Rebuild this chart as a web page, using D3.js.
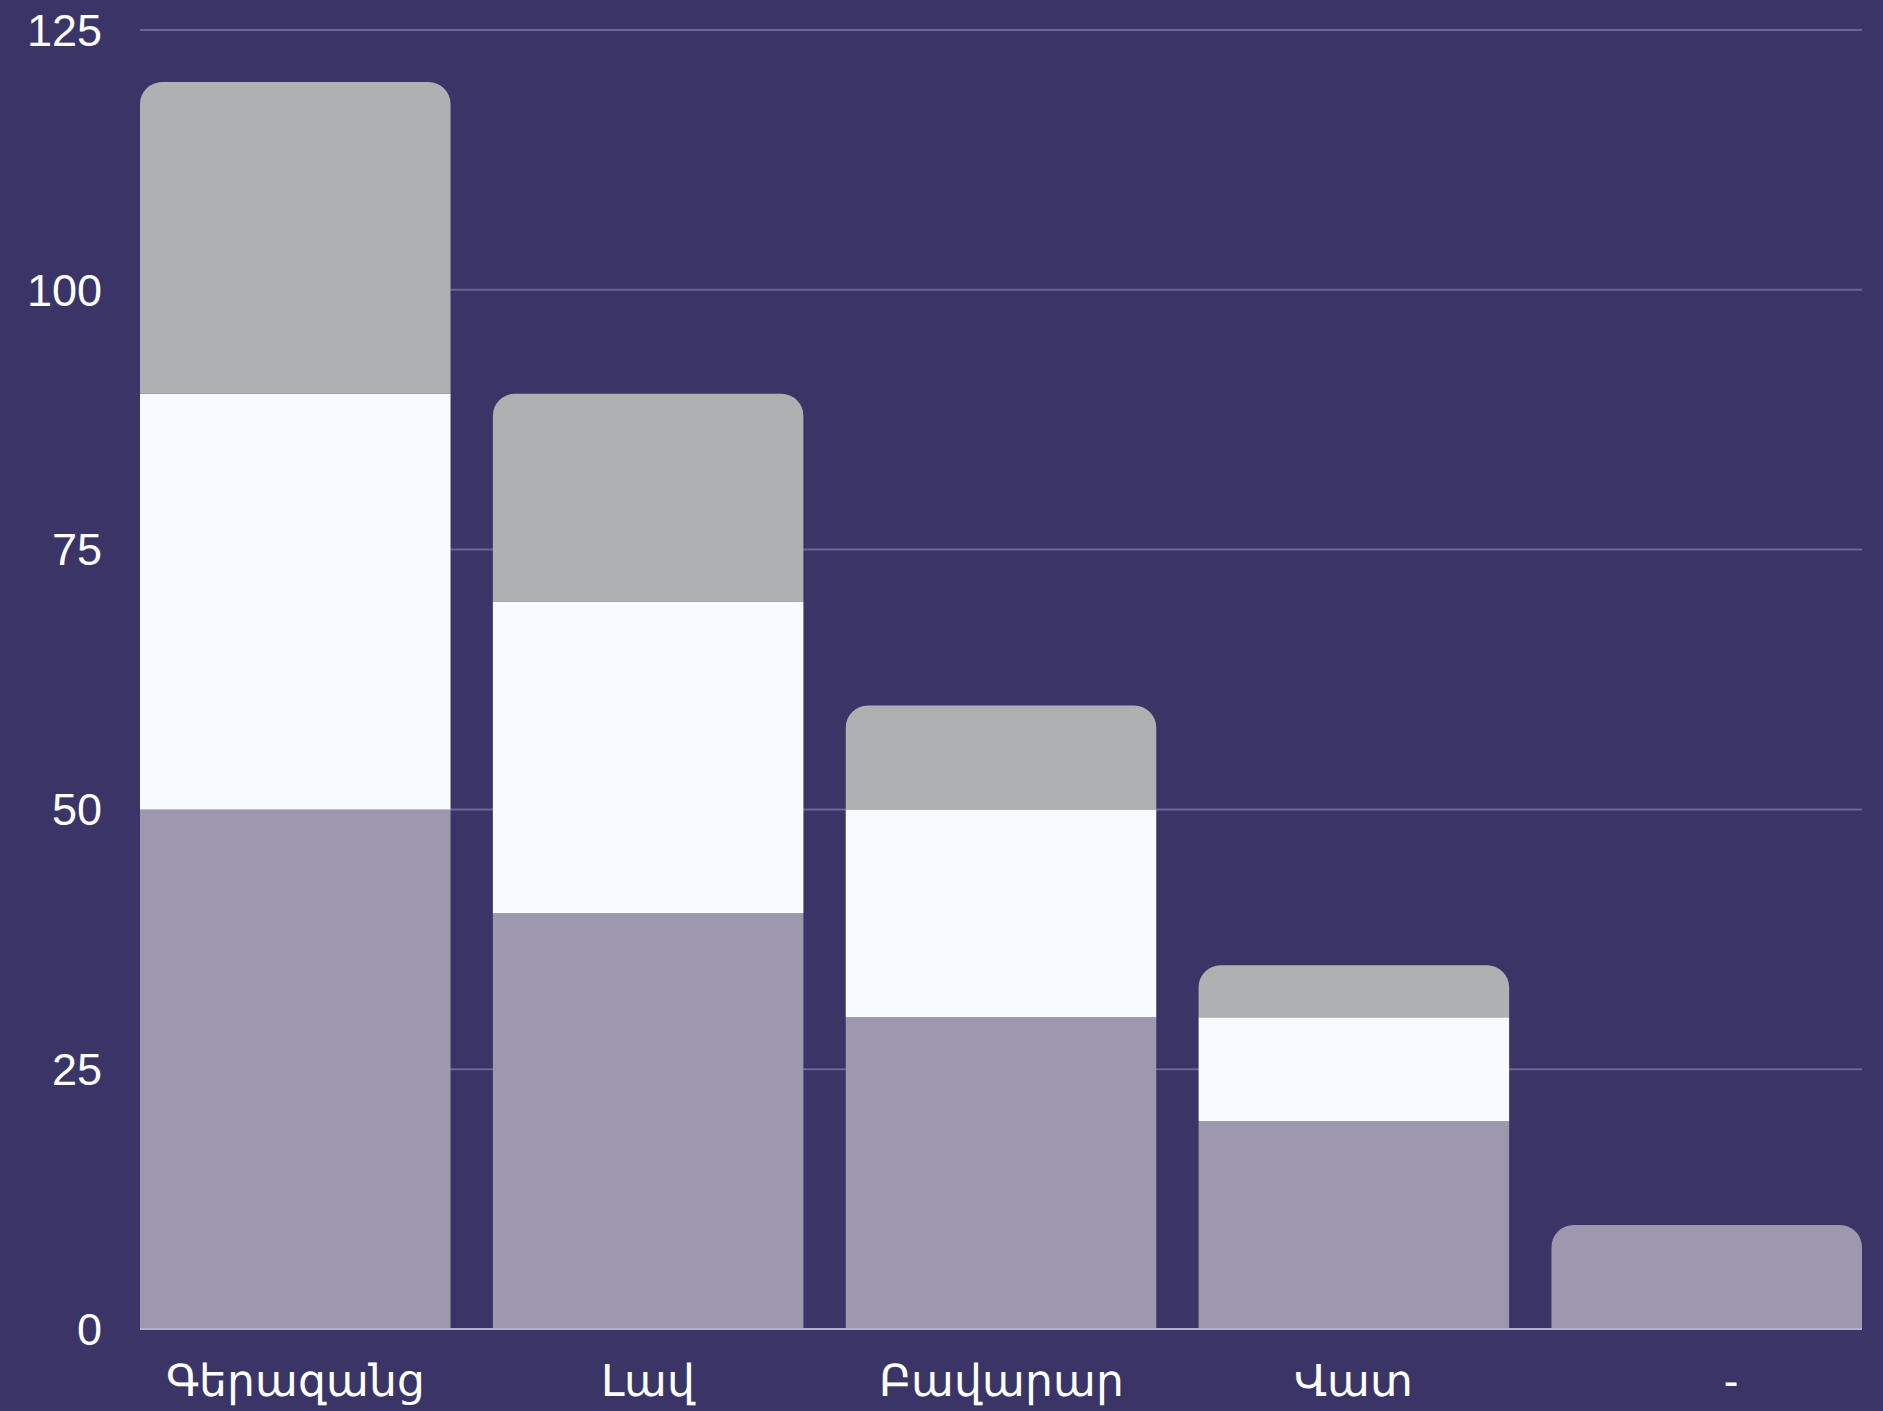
<!DOCTYPE html>
<html>
<head>
<meta charset="utf-8">
<script src="https://cdn.jsdelivr.net/npm/d3@7"></script>
<style>
  html, body { margin: 0; padding: 0; background: #3a3566; }
  svg text { font-family: "Liberation Sans", Arial, sans-serif; fill: #ffffff; }
</style>
</head>
<body>
<div class="layout"></div>
<script>
var categories = ["Գերազանց", "Լավ", "Բավարար", "Վատ", "\u00a0\u00a0\u00a0\u00a0-"];
var seriesBottom = [50, 40, 30, 20, 10];
var seriesMiddle = [40, 30, 20, 10, 0];
var seriesTop = [30, 20, 10, 5, 0];
var yTicks = [0, 25, 50, 75, 100, 125];
var colors = ["#9d98ae", "#f7fbff", "#afb0b2"];

var width = 1883, height = 1411;
var margin = {top: 30, right: 21, bottom: 82, left: 140};
var innerW = width - margin.left - margin.right,
    innerH = height - margin.top - margin.bottom;

var x = d3.scaleBand()
    .domain(categories)
    .range([0, innerW])
    .paddingInner(0.12)
    .paddingOuter(0);

var y = d3.scaleLinear()
    .domain([0, 125])
    .range([innerH, 0]);

var svg = d3.select(".layout").append("svg")
    .attr("width", width)
    .attr("height", height)
  .append("g")
    .attr("transform", "translate(" + margin.left + "," + margin.top + ")");

// grid
svg.append("g")
    .selectAll("line")
    .data(yTicks.filter(function(d) { return d > 0; }))
    .enter().append("line")
    .attr("x1", 0).attr("x2", innerW)
    .attr("y1", function(d) { return y(d); })
    .attr("y2", function(d) { return y(d); })
    .attr("stroke", "#6b6792")
    .attr("stroke-width", 2);

// y labels
svg.append("g")
    .selectAll("text")
    .data(yTicks)
    .enter().append("text")
    .attr("x", -38)
    .attr("y", function(d) { return y(d); })
    .attr("dy", "0.35em")
    .attr("text-anchor", "end")
    .style("font-size", "45px")
    .text(function(d) { return d; });

// stacked data
var rows = categories.map(function(c, i) {
  return {cat: c, a: seriesBottom[i], b: seriesMiddle[i], c: seriesTop[i]};
});
var stack = d3.stack().keys(["a", "b", "c"])(rows);

var r = 22;
function segPath(x0, w, y0, y1, rounded) {
  // y0 bottom px, y1 top px
  if (!rounded) {
    return "M" + x0 + "," + y0 + "V" + y1 + "H" + (x0 + w) + "V" + y0 + "Z";
  }
  var rr = Math.min(r, (y0 - y1), w / 2);
  return "M" + x0 + "," + y0 +
    "V" + (y1 + rr) +
    "A" + rr + "," + rr + " 0 0 1 " + (x0 + rr) + "," + y1 +
    "H" + (x0 + w - rr) +
    "A" + rr + "," + rr + " 0 0 1 " + (x0 + w) + "," + (y1 + rr) +
    "V" + y0 + "Z";
}

stack.forEach(function(layer, li) {
  svg.append("g")
    .selectAll("path")
    .data(layer.filter(function(d) { return d[1] > d[0]; }))
    .enter().append("path")
    .attr("fill", colors[li])
    .attr("d", function(d) {
      var isTop = d[1] === (d.data.a + d.data.b + d.data.c);
      return segPath(x(d.data.cat), x.bandwidth(), y(d[0]), y(d[1]), isTop);
    });
});

// baseline
svg.append("line")
    .attr("x1", 0).attr("x2", innerW)
    .attr("y1", y(0)).attr("y2", y(0))
    .attr("stroke", "#b3b0cf")
    .attr("stroke-width", 2);

// x labels
svg.append("g")
    .selectAll("text")
    .data(categories)
    .enter().append("text")
    .attr("x", function(d) { return x(d) + x.bandwidth() / 2; })
    .attr("y", innerH + 52)
    .attr("dy", "0.35em")
    .attr("text-anchor", "middle")
    .style("font-size", "44px")
    .text(function(d) { return d; });
</script>
</body>
</html>
